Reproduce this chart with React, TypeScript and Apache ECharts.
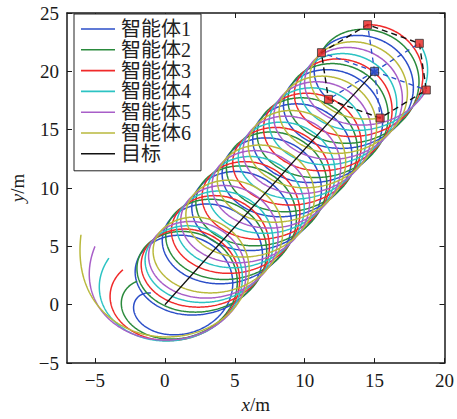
import React, { useEffect, useRef } from "react";
import * as echarts from "echarts";

const agentNames = ["智能体1", "智能体2", "智能体3", "智能体4", "智能体5", "智能体6"];
const agentColors = ["#2b4ec8", "#2a8a3c", "#f02a2a", "#2cc3c3", "#a85ec8", "#b9b93c"];
const targetName = "目标";
const targetStart = [0, 0];
const targetEnd = [15, 20];
const agentStarts = [[-1, 1], [-2, 2], [-3, 3], [-4, 4], [-5, 5], [-6, 6]];
const agentEnds = [[11.7, 17.6], [11.2, 21.6], [14.5, 24.0], [18.2, 22.4], [18.7, 18.4], [15.4, 16.0]];
const revolutions = 7;
const xTicks = [-5, 0, 5, 10, 15, 20];
const yTicks = [-5, 0, 5, 10, 15, 20, 25];

const TAU_R = 0.03;
const TAU_P = 0.14;
const SAMPLES = 2400;

function normPos(a: number) {
  const t = 2 * Math.PI;
  return ((a % t) + t) % t;
}

function buildTrajectories() {
  const [tx0, ty0] = targetStart;
  const [tx1, ty1] = targetEnd;
  const p0s = agentStarts.map(([x, y]) => Math.atan2(y - ty0, x - tx0));
  const r0s = agentStarts.map(([x, y]) => Math.hypot(x - tx0, y - ty0));
  const p1s = agentEnds.map(([x, y]) => Math.atan2(y - ty1, x - tx1));
  const r1s = agentEnds.map(([x, y]) => Math.hypot(x - tx1, y - ty1));
  const thBlue = normPos(p1s[0] - p0s[0]) + 2 * Math.PI * revolutions;
  const thetas = p1s.map((p) => {
    let d = normPos(p - p1s[0]);
    if (d > 0) d -= 2 * Math.PI;
    return thBlue + d;
  });
  const thMean = thetas.reduce((a, b) => a + b, 0) / thetas.length;
  const norm = 1 - Math.exp(-1 / TAU_P);
  return agentStarts.map((_, k) => {
    const pts: number[][] = [];
    for (let i = 0; i <= SAMPLES; i++) {
      const t = i / SAMPLES;
      const cx = tx0 + (tx1 - tx0) * t;
      const cy = ty0 + (ty1 - ty0) * t;
      const r = r1s[k] + (r0s[k] - r1s[k]) * Math.exp(-t / TAU_R);
      const ph = p0s[k] + thMean * t + (thetas[k] - thMean) * (1 - Math.exp(-t / TAU_P)) / norm;
      pts.push([cx + r * Math.cos(ph), cy + r * Math.sin(ph)]);
    }
    return pts;
  });
}

const FONT = "'Liberation Serif', 'Noto Sans CJK SC', serif";

export default function App() {
  const ref = useRef<HTMLDivElement>(null);
  useEffect(() => {
    if (!ref.current) return;
    const chart = echarts.init(ref.current, undefined, { renderer: "svg" });
    const trajs = buildTrajectories();
    const order = agentEnds
      .map((p) => ({ p, a: Math.atan2(p[1] - targetEnd[1], p[0] - targetEnd[0]) }))
      .sort((a, b) => a.a - b.a)
      .map((o) => o.p);
    const hexagon = [...order, order[0]];

    const fmt = (v: number) => String(v).replace("-", "\u2212");
    const axisLineStyle = { color: "#1a1a1a", width: 1.5 };
    const labelStyle = { fontFamily: FONT, fontSize: 19, color: "#1a1a1a" };

    const series: any[] = trajs.map((d, k) => ({
      name: agentNames[k],
      type: "line",
      data: d,
      showSymbol: false,
      symbol: "none",
      silent: true,
      lineStyle: { color: agentColors[k], width: 1.5 },
      itemStyle: { color: agentColors[k] },
      z: 2 + k,
    }));
    series.push({
      name: targetName,
      type: "line",
      data: [targetStart, targetEnd],
      showSymbol: false,
      symbol: "none",
      lineStyle: { color: "#111", width: 1.3 },
      itemStyle: { color: "#111" },
      z: 10,
    });
    agentEnds.forEach((p, i) => {
      series.push({
        name: "spoke" + i,
        type: "line",
        data: [targetEnd, p],
        showSymbol: false,
        symbol: "none",
        lineStyle: { color: "#2b4ec8", width: 1.3, type: [5, 4] },
        z: 11,
      });
    });
    series.push({
      name: "hex",
      type: "line",
      data: hexagon,
      showSymbol: false,
      symbol: "none",
      lineStyle: { color: "#111", width: 1.4, type: [6, 4] },
      z: 12,
    });
    series.push({
      name: "ends",
      type: "scatter",
      data: agentEnds,
      symbol: "rect",
      symbolSize: 8,
      itemStyle: { color: "#e8231f", borderColor: "#333", borderWidth: 1 },
      z: 13,
    });
    series.push({
      name: "tend",
      type: "scatter",
      data: [targetEnd],
      symbol: "rect",
      symbolSize: 8,
      itemStyle: { color: "#2b4ec8", borderColor: "#333", borderWidth: 1 },
      z: 14,
    });

    chart.setOption({
      animation: false,
      backgroundColor: "#fff",
      grid: { left: 67, right: 9, top: 13, bottom: 48 },
      legend: {
        data: [...agentNames, targetName].map((n) => ({ name: n, icon: "rect" })),
        orient: "vertical",
        left: 74,
        top: 14,
        itemWidth: 34,
        itemHeight: 1.6,
        itemGap: 0.8,
        padding: [5, 10, 7, 7],
        backgroundColor: "#fff",
        borderColor: "#222",
        borderWidth: 1,
        borderRadius: 0,
        textStyle: { fontFamily: FONT, fontSize: 20, color: "#222", lineHeight: 20, padding: [0, 0, 0, 1] },
        selectedMode: false,
      },
      xAxis: [
        {
          type: "value",
          min: -7,
          max: 20,
          position: "bottom",
          name: "{i|x}/m",
          nameLocation: "middle",
          nameGap: 26,
          nameTextStyle: {
            fontFamily: FONT,
            fontSize: 19,
            color: "#1a1a1a",
            rich: { i: { fontFamily: FONT, fontSize: 19, fontStyle: "italic", color: "#1a1a1a" } },
          },
          axisLine: { show: true, onZero: false, lineStyle: axisLineStyle },
          axisTick: { show: true, inside: true, length: 5, customValues: xTicks, lineStyle: { color: "#1a1a1a" } },
          axisLabel: { ...labelStyle, margin: 8, customValues: xTicks, formatter: fmt },
          splitLine: { show: false },
        },
        {
          type: "value",
          min: -7,
          max: 20,
          position: "top",
          axisLine: { show: true, onZero: false, lineStyle: axisLineStyle },
          axisTick: { show: true, inside: true, length: 5, customValues: xTicks, lineStyle: { color: "#1a1a1a" } },
          axisLabel: { show: false },
          splitLine: { show: false },
        },
      ],
      yAxis: [
        {
          type: "value",
          min: -5,
          max: 25,
          interval: 5,
          position: "left",
          name: "{i|y}/m",
          nameLocation: "middle",
          nameGap: 40,
          nameTextStyle: {
            fontFamily: FONT,
            fontSize: 19,
            color: "#1a1a1a",
            rich: { i: { fontFamily: FONT, fontSize: 19, fontStyle: "italic", color: "#1a1a1a" } },
          },
          axisLine: { show: true, onZero: false, lineStyle: axisLineStyle },
          axisTick: { show: true, inside: true, length: 5, lineStyle: { color: "#1a1a1a" } },
          axisLabel: { ...labelStyle, margin: 8, formatter: fmt, customValues: yTicks },
          splitLine: { show: false },
        },
        {
          type: "value",
          min: -5,
          max: 25,
          interval: 5,
          position: "right",
          axisLine: { show: true, onZero: false, lineStyle: axisLineStyle },
          axisTick: { show: true, inside: true, length: 5, lineStyle: { color: "#1a1a1a" } },
          axisLabel: { show: false },
          splitLine: { show: false },
        },
      ],
      series,
    });
    return () => chart.dispose();
  }, []);
  return (
    <div
      ref={ref}
      style={{ position: "absolute", left: 0, top: 0, width: 457, height: 419 }}
    />
  );
}
